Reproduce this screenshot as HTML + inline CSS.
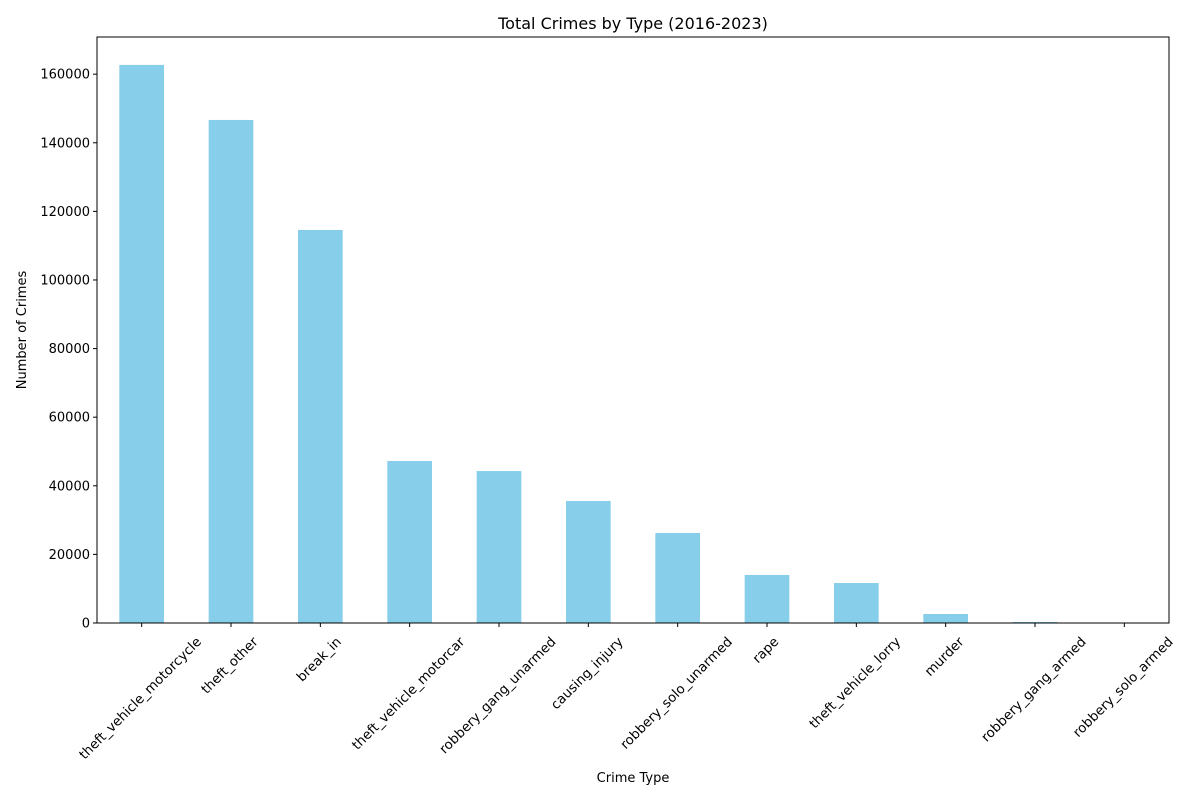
<!DOCTYPE html>
<html><head><meta charset="utf-8"><style>
body{margin:0;background:#fff;font-family:"Liberation Sans","DejaVu Sans",sans-serif;}
svg text{font-family:"DejaVu Sans","Liberation Sans",sans-serif;}
</style></head><body>
<svg id="chart" width="1200" height="800" xmlns="http://www.w3.org/2000/svg">
<rect width="1200" height="800" fill="#fff"/>
<text x="633" y="29" font-size="16" text-anchor="middle">Total Crimes by Type (2016-2023)</text>
<text x="633" y="782" font-size="13" text-anchor="middle">Crime Type</text>
<text transform="translate(26,330) rotate(-90)" font-size="13" text-anchor="middle">Number of Crimes</text>
<g id="bars"></g><g id="axes"></g>
<rect x="97" y="37" width="1072" height="586" fill="none" stroke="#000" stroke-width="1"/>
</svg>
<script>
const categories=["theft_vehicle_motorcycle","theft_other","break_in","theft_vehicle_motorcar","robbery_gang_unarmed","causing_injury","robbery_solo_unarmed","rape","theft_vehicle_lorry","murder","robbery_gang_armed","robbery_solo_armed"];
const values=[162700,146650,114580,47230,44300,35570,26240,14000,11660,2620,300,50];
const yTicks=[0,20000,40000,60000,80000,100000,120000,140000,160000];
const NS="http://www.w3.org/2000/svg";
const L=97,R=1169,T=37,B=623;
const yMax=Math.max(...values)*1.05;
const y=v=>B-(v/yMax)*(B-T);
const step=(R-L)/categories.length;
const x=i=>L+step*(i+0.5);
const bars=document.getElementById('bars'),axes=document.getElementById('axes');
function mk(t,a){const e=document.createElementNS(NS,t);for(const k in a)e.setAttribute(k,a[k]);return e;}
values.forEach((v,i)=>{
 const r=mk('rect',{x:x(i)-step/4,y:y(v),width:step/2,height:B-y(v),fill:'#87ceeb'});
 
 
 bars.appendChild(r);
});
yTicks.forEach(t=>{
 const l=mk('line',{x1:L-4,x2:L,y1:y(t),y2:y(t),stroke:'#000'});
 
 
 axes.appendChild(l);
 const tx=mk('text',{x:L-7,y:y(t)+4.5,'font-size':13,'text-anchor':'end'});
 
 
 tx.textContent=t;axes.appendChild(tx);
});
categories.forEach((c,i)=>{
 const l=mk('line',{x1:x(i),x2:x(i),y1:B,y2:B+4,stroke:'#000'});
 
 
 axes.appendChild(l);
 const tx=mk('text',{'font-size':13.3,'text-anchor':'middle'});
 
 
 tx.textContent=c;axes.appendChild(tx);
 const w=tx.getComputedTextLength();
 const h=(w+15)*Math.SQRT1_2;
 const cy=B+11+h/2;
 tx.setAttribute('transform',`translate(${x(i)-1.5},${cy}) rotate(-45) translate(0,4.5)`);
});
</script>
</body></html>
